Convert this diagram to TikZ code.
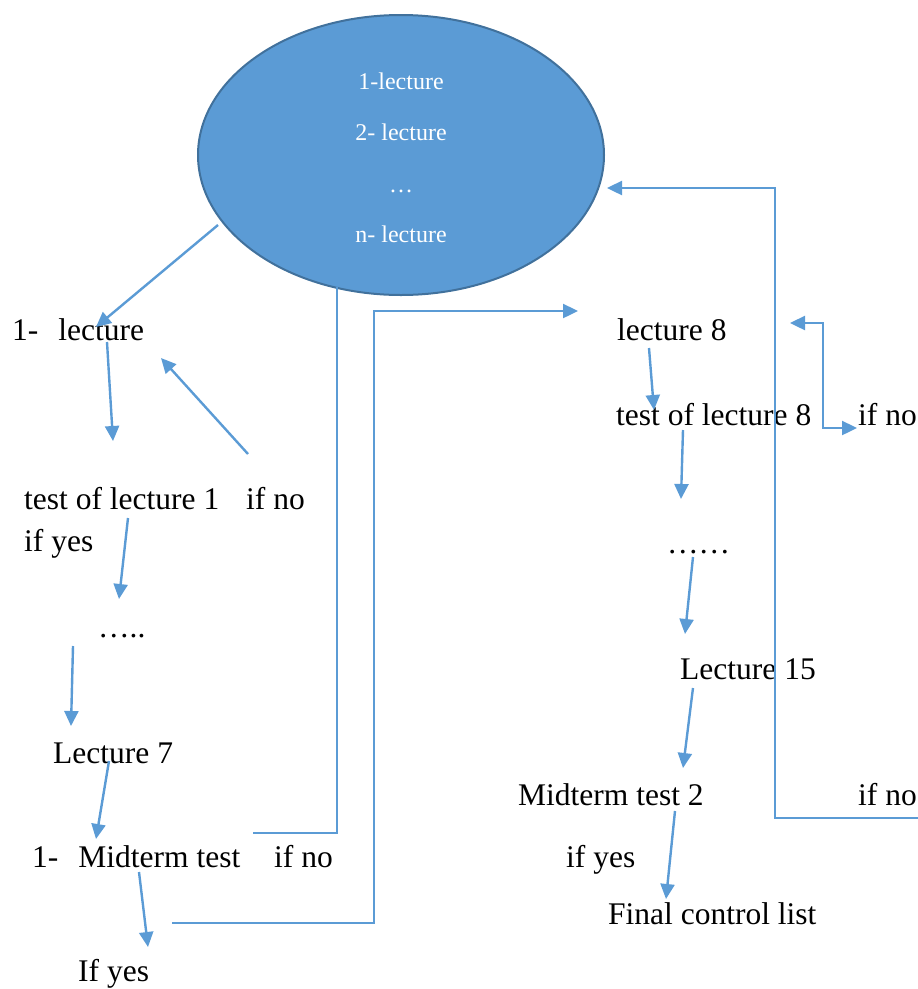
\documentclass[tikz,border=0pt]{standalone}
\usepackage{fontspec}
\setmainfont{Liberation Serif}
\usetikzlibrary{arrows.meta,shapes.geometric}
\definecolor{arrblue}{HTML}{5B9BD5}
\definecolor{ellfill}{HTML}{5B9BD5}
\definecolor{elledge}{HTML}{41719C}
\tikzset{
  lbl/.style={anchor=base west, inner sep=0pt, font=\fontsize{31.5}{36}\selectfont},
  inlbl/.style={anchor=base, inner sep=0pt, text=white, font=\fontsize{24}{28}\selectfont},
  conn/.style={draw=arrblue, line width=2.4pt},
  arr/.style={conn, -{Triangle[length=15pt,width=14pt]}},
  darr/.style={conn, {Triangle[length=15pt,width=14pt]}-{Triangle[length=15pt,width=14pt]}}
}
\begin{document}
\begin{tikzpicture}[x=1pt,y=-1pt]
\useasboundingbox (0,0) rectangle (918,989);
% ellipse
\node[draw=elledge, fill=ellfill, line width=2pt, ellipse, minimum width=406pt, minimum height=280pt, inner sep=0pt] (ell) at (401,155) {};
\node[inlbl] (e1) at (401,89) {1-lecture};
\node[inlbl] (e2) at (401,140) {2- lecture};
\node[inlbl] (e3) at (401,192) {\dots};
\node[inlbl] (e4) at (401,242) {n- lecture};
% left column
\node[lbl] (l1) at (12,340) {1-\hspace{20pt}lecture};
\node[lbl] (t1) at (24,509) {test of lecture 1};
\node[lbl] (t1no) at (246,509) {if no};
\node[lbl] (t1yes) at (24,551) {if yes};
\node[lbl] (dots1) at (98,637) {…..};
\node[lbl] (l7) at (53,763) {Lecture 7};
\node[lbl] (m1) at (32,867) {1-\hspace{20pt}Midterm test};
\node[lbl] (m1no) at (274,867) {if no};
\node[lbl] (m1yes) at (78,981) {If yes};
% right column
\node[lbl] (l8) at (617,340) {lecture 8};
\node[lbl] (t8) at (616,425) {test of lecture 8};
\node[lbl] (t8no) at (858,425) {if no};
\node[lbl] (dots2) at (667,553) {……};
\node[lbl] (l15) at (680,679) {Lecture 15};
\node[lbl] (m2) at (518,805) {Midterm test 2};
\node[lbl] (m2no) at (858,805) {if no};
\node[lbl] (m2yes) at (566,867) {if yes};
\node[lbl] (fin) at (608,924) {Final control list};
% connector end points
\coordinate (a1s) at (218,225); \coordinate (a1e) at (96,327);
\coordinate (a2s) at (107,342); \coordinate (a2e) at (113,441);
\coordinate (a3s) at (248,454); \coordinate (a3e) at (161,358);
\coordinate (a4s) at (128,518); \coordinate (a4e) at (119,599);
\coordinate (a5s) at (73,646);  \coordinate (a5e) at (71,726);
\coordinate (a6s) at (109,761); \coordinate (a6e) at (96,839);
\coordinate (a7s) at (139,872); \coordinate (a7e) at (148,947);
\coordinate (n1s) at (253,833); \coordinate (n1c) at (337,833); \coordinate (n1e) at (337,287);
\coordinate (y1s) at (172,923); \coordinate (y1c) at (374,923); \coordinate (y1d) at (374,311); \coordinate (y1e) at (578,311);
\coordinate (b1s) at (649,348); \coordinate (b1e) at (654,410);
\coordinate (b2s) at (683,430); \coordinate (b2e) at (681,499);
\coordinate (b3s) at (693,557); \coordinate (b3e) at (685,634);
\coordinate (b4s) at (693,688); \coordinate (b4e) at (683,768);
\coordinate (b5s) at (675,811); \coordinate (b5e) at (666,899);
\coordinate (r1s) at (920,818); \coordinate (r1c) at (775,818); \coordinate (r1d) at (775,188); \coordinate (r1e) at (607,188);
\coordinate (lp1) at (790,323); \coordinate (lp2) at (823,323); \coordinate (lp3) at (823,428); \coordinate (lp4) at (857,428);
% connectors
\draw[arr] (a1s) -- (a1e);
\draw[arr] (a2s) -- (a2e);
\draw[arr] (a3s) -- (a3e);
\draw[arr] (a4s) -- (a4e);
\draw[arr] (a5s) -- (a5e);
\draw[arr] (a6s) -- (a6e);
\draw[arr] (a7s) -- (a7e);
\draw[conn] (n1s) -- (n1c) -- (n1e);
\draw[arr] (y1s) -- (y1c) -- (y1d) -- (y1e);
\draw[arr] (b1s) -- (b1e);
\draw[arr] (b2s) -- (b2e);
\draw[arr] (b3s) -- (b3e);
\draw[arr] (b4s) -- (b4e);
\draw[arr] (b5s) -- (b5e);
\draw[arr] (r1s) -- (r1c) -- (r1d) -- (r1e);
\draw[darr] (lp1) -- (lp2) -- (lp3) -- (lp4);
\end{tikzpicture}
\end{document}
